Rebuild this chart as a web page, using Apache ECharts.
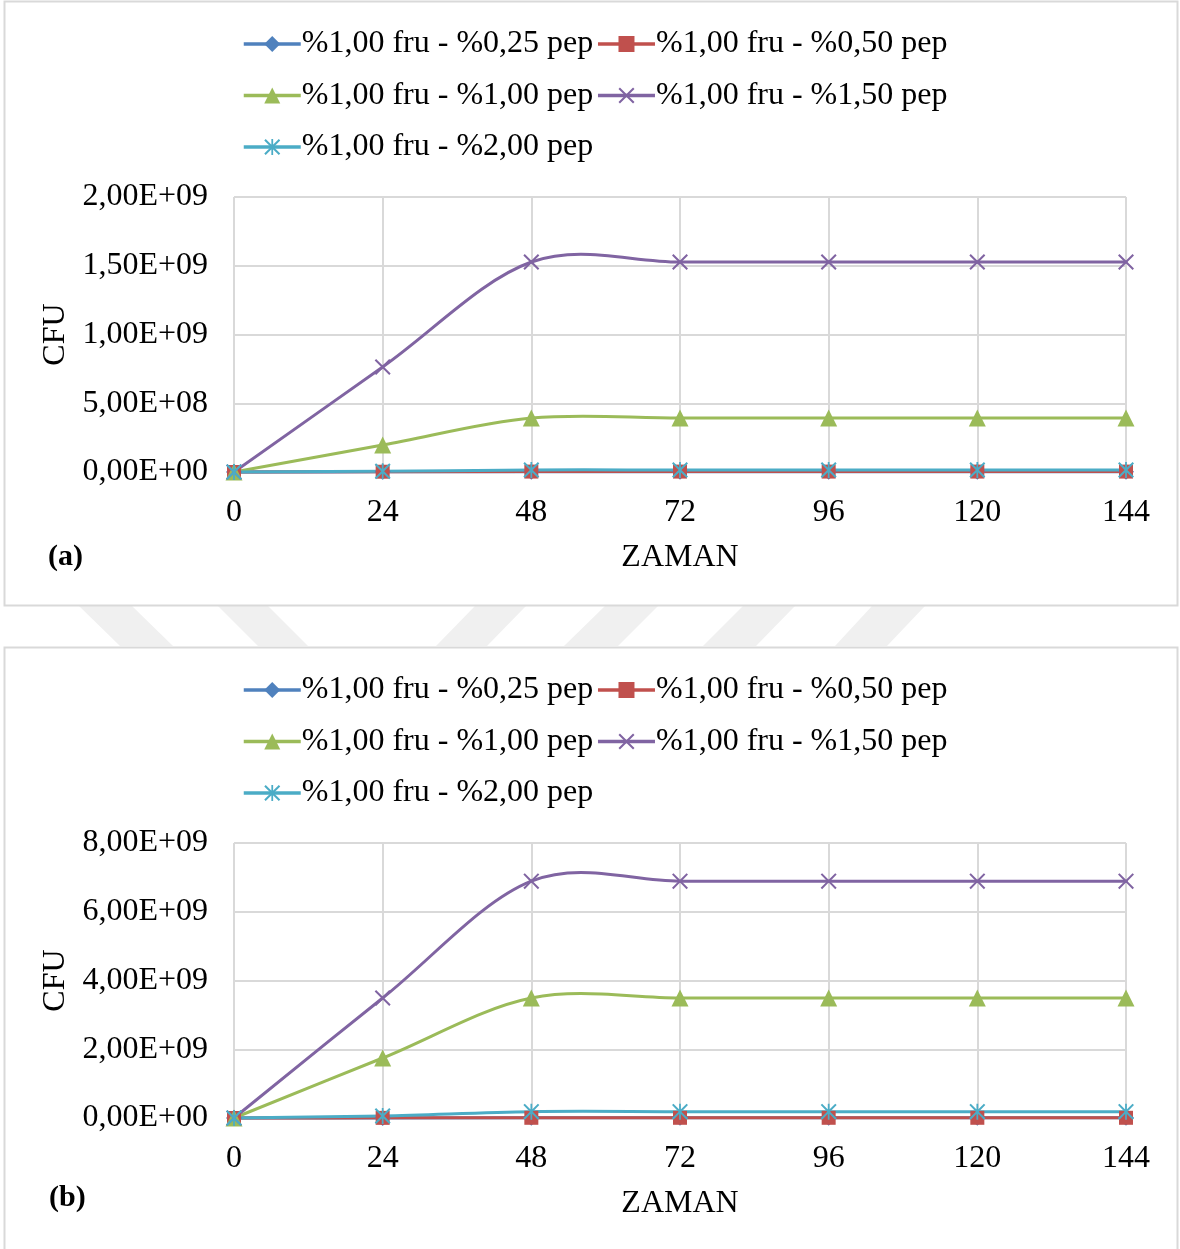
<!DOCTYPE html>
<html><head><meta charset="utf-8">
<script src="https://cdn.jsdelivr.net/npm/echarts@6/dist/echarts.min.js"></script>
<style>html,body{margin:0;padding:0;background:#fff}#c{width:1180px;height:1249px}</style>
</head><body><div id="c"></div>
<script>
const hours = ['0','24','48','72','96','120','144'];
const names = ['%1,00 fru - %0,25 pep','%1,00 fru - %0,50 pep','%1,00 fru - %1,00 pep','%1,00 fru - %1,50 pep','%1,00 fru - %2,00 pep'];
// Panel (a)
const a_p025 = [0, 1e6, 2e6, 2e6, 2e6, 2e6, 2e6];
const a_p050 = [0, 2e6, 3e6, 3e6, 3e6, 3e6, 3e6];
const a_p100 = [0, 1.96e8, 3.93e8, 3.93e8, 3.93e8, 3.93e8, 3.93e8];
const a_p150 = [0, 7.64e8, 1.527e9, 1.527e9, 1.527e9, 1.527e9, 1.527e9];
const a_p200 = [0, 5e6, 1.5e7, 1.5e7, 1.5e7, 1.5e7, 1.5e7];
// Panel (b)
const b_p025 = [0, 2e6, 4e6, 4e6, 4e6, 4e6, 4e6];
const b_p050 = [0, 4e6, 6e6, 6e6, 6e6, 6e6, 6e6];
const b_p100 = [0, 1.745e9, 3.49e9, 3.49e9, 3.49e9, 3.49e9, 3.49e9];
const b_p150 = [0, 3.49e9, 6.89e9, 6.89e9, 6.89e9, 6.89e9, 6.89e9];
const b_p200 = [0, 6e7, 1.85e8, 1.85e8, 1.85e8, 1.85e8, 1.85e8];
const yTicksA = ['0,00E+00','5,00E+08','1,00E+09','1,50E+09','2,00E+09'];
const yTicksB = ['0,00E+00','2,00E+09','4,00E+09','6,00E+09','8,00E+09'];

const colors = ['#4F81BD','#C0504D','#9BBB59','#8064A2','#4BACC6'];
const xPath = 'path://M0,0.9 L0.9,0 L5,4.1 L9.1,0 L10,0.9 L5.9,5 L10,9.1 L9.1,10 L5,5.9 L0.9,10 L0,9.1 L4.1,5 Z';
const starPath = 'path://M0,0.9 L0.9,0 L5,4.1 L9.1,0 L10,0.9 L5.9,5 L10,9.1 L9.1,10 L5,5.9 L0.9,10 L0,9.1 L4.1,5 Z M4.45,0 L5.55,0 L5.55,10 L4.45,10 Z';
const symbols = ['diamond','rect','triangle',xPath,starPath];
const symSizes = [16,14,17,16,16];
const FONT = 'Liberation Serif';
const FS = 32;

// Excel-style smoothed curve (Catmull-Rom bezier), positions via the axes' scales
function curveSeries(d, i, gi){
  return {
    type:'custom', xAxisIndex: gi, yAxisIndex: gi, silent:true, animation:false, z: 1+i,
    data: d.map((v,k)=>[k, v]),
    encode:{x:0, y:1},
    renderItem: function(params, api){
      const k = params.dataIndex, n = d.length;
      if (k >= n-1) return null;
      const P = (j)=>{ j = Math.max(0, Math.min(n-1, j)); return api.coord([j, d[j]]); };
      const p0 = P(k-1), p1 = P(k), p2 = P(k+1), p3 = P(k+2);
      return {type:'bezierCurve', shape:{
          x1:p1[0], y1:p1[1], x2:p2[0], y2:p2[1],
          cpx1: p1[0] + (p2[0]-p0[0])/6, cpy1: p1[1] + (p2[1]-p0[1])/6,
          cpx2: p2[0] - (p3[0]-p1[0])/6, cpy2: p2[1] - (p3[1]-p1[1])/6 },
        style:{stroke: colors[i], lineWidth:3, fill:null, lineCap:'round'}};
    }
  };
}
function mkSeries(arrs, gi){
  const out = [];
  arrs.forEach((d,i)=>{
    out.push(curveSeries(d, i, gi));
    out.push({
      name: names[i], type:'line', xAxisIndex: gi, yAxisIndex: gi, data: d,
      symbol: symbols[i], symbolSize: symSizes[i], showAllSymbol: true,
      lineStyle:{color: colors[i], width: 3, opacity: 0},
      itemStyle:{color: colors[i]},
      emphasis:{disabled:true}, animation:false, z: 10+i
    });
  });
  return out;
}
function mkX(gi){
  return {type:'category', gridIndex: gi, data: hours, boundaryGap:false,
    axisLine:{show:true, lineStyle:{color:'#d9d9d9', width:2}}, axisTick:{show:false},
    splitLine:{show:true, lineStyle:{color:'#d9d9d9', width:2}},
    axisLabel:{color:'#000', fontFamily:FONT, fontSize:FS, margin:25},
    name:'ZAMAN', nameLocation:'middle', nameGap:70,
    nameTextStyle:{color:'#000', fontFamily:FONT, fontSize:FS}};
}
function mkY(gi, max, interval, ticks){
  return {type:'value', gridIndex: gi, min:0, max:max, interval:interval,
    axisLine:{show:false}, axisTick:{show:false},
    splitLine:{show:true, lineStyle:{color:'#d9d9d9', width:2}},
    axisLabel:{color:'#000', fontFamily:FONT, fontSize:FS, margin:26,
      formatter:(v)=>ticks[Math.round(v/interval)]},
    name:'CFU', nameLocation:'middle', nameGap:159,
    nameTextStyle:{color:'#000', fontFamily:FONT, fontSize:FS}};
}
function mkLegends(top0){
  const rows = [[names[0],names[1]],[names[2],names[3]],[names[4]]];
  return rows.map((r,k)=>({data:r, left:237, top: top0 + k*51.5, itemWidth:57, itemHeight:20,
    itemGap:3, lineStyle:{width:3.5, opacity:1},
    textStyle:{color:'#000', fontFamily:FONT, fontSize:FS, padding:[0,0,0,-4]}, selectedMode:false}));
}
const stripes = [
  [[79,606],[132,606],[173,646],[120,646]],
  [[218,606],[268,606],[308,646],[258,646]],
  [[475,606],[526,606],[487,646],[436,646]],
  [[605,606],[658,606],[618,646],[564,646]],
  [[743,606],[795,606],[756,646],[703,646]],
  [[872,606],[925,606],[887,646],[835,646]]
];
const chart = echarts.init(document.getElementById('c'), null, {renderer:'canvas'});
chart.setOption({
  animation:false,
  color: colors,
  graphic: [
    ...stripes.map(p=>({type:'polygon', shape:{points:p}, style:{fill:'#f0f0f0'}, silent:true, z:-10})),
    {type:'rect', shape:{x:4.5,y:1.5,width:1173,height:604}, style:{fill:'none', stroke:'#d9d9d9', lineWidth:2}, silent:true},
    {type:'rect', shape:{x:4.5,y:647.5,width:1173,height:604}, style:{fill:'none', stroke:'#d9d9d9', lineWidth:2}, silent:true},
    {type:'text', left:48, top:542, style:{text:'(a)', font:'bold 30px "Liberation Serif"', fill:'#000'}},
    {type:'text', left:49, top:1183, style:{text:'(b)', font:'bold 30px "Liberation Serif"', fill:'#000'}}
  ],
  legend: [...mkLegends(23), ...mkLegends(669)],
  grid: [
    {left:234, right:54, top:197, height:275},
    {left:234, right:54, top:843, height:275}
  ],
  xAxis: [mkX(0), mkX(1)],
  yAxis: [mkY(0, 2e9, 5e8, yTicksA), mkY(1, 8e9, 2e9, yTicksB)],
  series: [
    ...mkSeries([a_p025,a_p050,a_p100,a_p150,a_p200], 0),
    ...mkSeries([b_p025,b_p050,b_p100,b_p150,b_p200], 1)
  ]
});
</script></body></html>
